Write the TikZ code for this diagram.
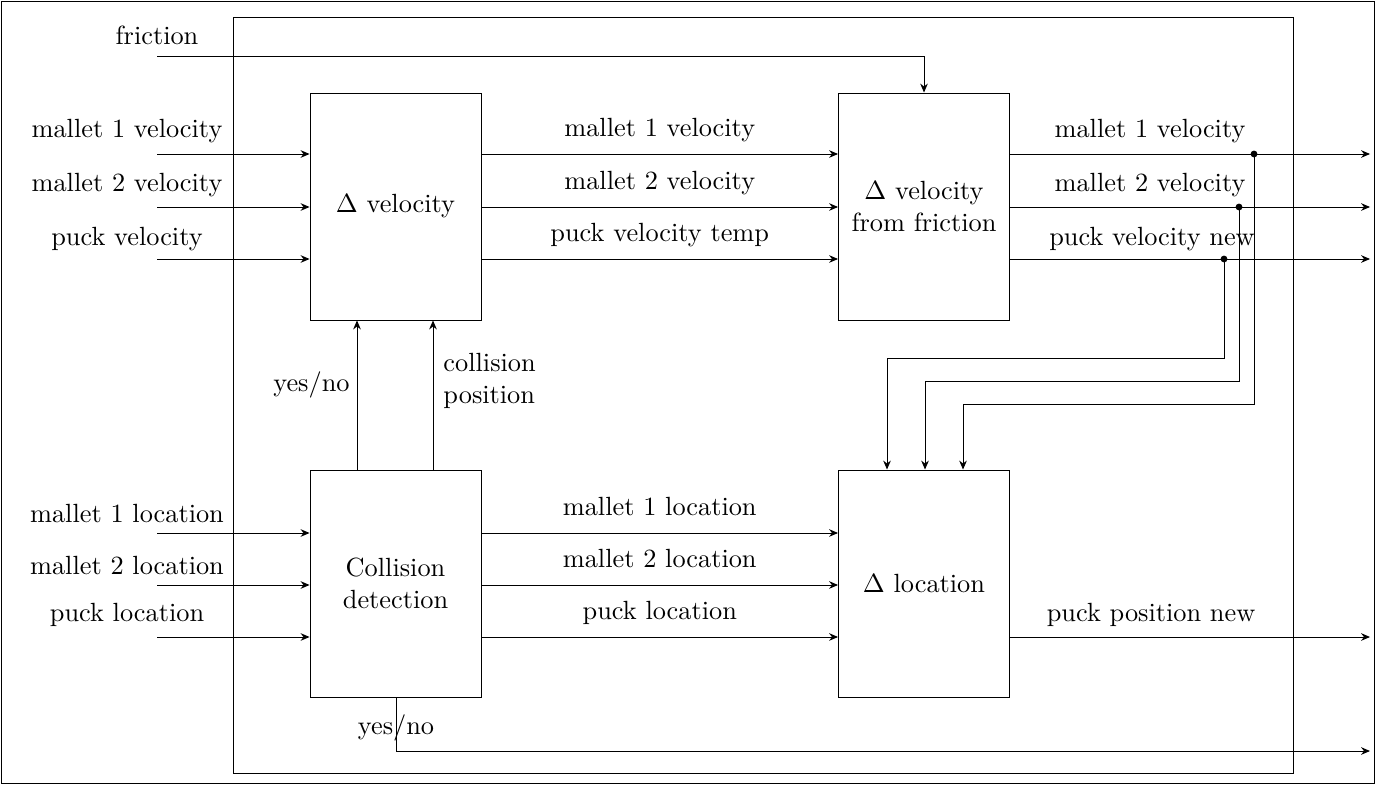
\documentclass[tikz,border=0pt]{standalone}
\usetikzlibrary{arrows.meta}
\begin{document}
\begin{tikzpicture}[x=0.38pt,y=-0.38pt,line width=0.36pt,
  blk/.style={draw,rectangle,inner sep=0pt,minimum width=64.98pt,minimum height=86.26pt,align=center},
  lbl/.style={inner sep=0pt,anchor=base},
  over/.style={midway,above=6.5pt,inner sep=0pt,anchor=base},
  flow/.style={-{Stealth[length=3.4pt,width=2.9pt]}},
  junc/.style={circle,fill,inner sep=0pt,minimum size=2.6pt}]
\useasboundingbox (0,0) rectangle (1375,784);
\draw (1,1) rectangle (1374,783);
% system boundary
\draw (233,17) rectangle (1293,773);

% blocks
\node[blk] (dv)  at (395.5,206.5) {$\Delta$ velocity};
\node[blk] (dvf) at (924,206.5) {$\Delta$ velocity\\from friction};
\node[blk] (cd)  at (395.5,583.5) {Collision\\detection};
\node[blk] (dl)  at (924,583.5) {$\Delta$ location};

% external inputs
\coordinate (fr) at (157,56);
\coordinate (vi1) at (157,154);
\coordinate (vi2) at (157,207);
\coordinate (vi3) at (157,259);
\coordinate (li1) at (157,533);
\coordinate (li2) at (157,585);
\coordinate (li3) at (157,637);
\node[lbl] at (157,45) {friction};
\node[lbl] at (127,137) {mallet 1 velocity};
\node[lbl] at (127,191) {mallet 2 velocity};
\node[lbl] at (127,245) {puck velocity};
\node[lbl] at (127,522) {mallet 1 location};
\node[lbl] at (127,574) {mallet 2 location};
\node[lbl] at (127,621) {puck location};

\draw[flow] (fr) -| (dvf.north);
\draw[flow] (vi1) -- (vi1 -| dv.west);
\draw[flow] (vi2) -- (vi2 -| dv.west);
\draw[flow] (vi3) -- (vi3 -| dv.west);
\draw[flow] (li1) -- (li1 -| cd.west);
\draw[flow] (li2) -- (li2 -| cd.west);
\draw[flow] (li3) -- (li3 -| cd.west);

% velocity block to friction block
\draw[flow] (dv.east |- vi1) -- node[over]{mallet 1 velocity} (dvf.west |- vi1);
\draw[flow] (dv.east |- vi2) -- node[over]{mallet 2 velocity} (dvf.west |- vi2);
\draw[flow] (dv.east |- vi3) -- node[over]{puck velocity temp} (dvf.west |- vi3);

% collision block to location block
\draw[flow] (cd.east |- li1) -- node[over]{mallet 1 location} (dl.west |- li1);
\draw[flow] (cd.east |- li2) -- node[over]{mallet 2 location} (dl.west |- li2);
\draw[flow] (cd.east |- li3) -- node[over]{puck location} (dl.west |- li3);

% collision results up to velocity block
\coordinate (c1) at (357,470);
\coordinate (c2) at (433,470);
\draw[flow] (c1) -- (c1 |- dv.south);
\draw[flow] (c2) -- (c2 |- dv.south);
\node[anchor=east,inner sep=0pt] at (350,385) {yes/no};
\node[anchor=west,inner sep=0pt,align=left] at (443,381) {collision\\position};

% outputs
\coordinate (o1) at (1370,154);
\coordinate (o2) at (1370,207);
\coordinate (o3) at (1370,259);
\coordinate (o4) at (1370,637);
\coordinate (o5) at (1370,751);
\draw[flow] (dvf.east |- o1) -- (o1);
\draw[flow] (dvf.east |- o2) -- (o2);
\draw[flow] (dvf.east |- o3) -- (o3);
\draw[flow] (dl.east |- o4) -- (o4);
\node[lbl] at (1150,137) {mallet 1 velocity};
\node[lbl] at (1150,191) {mallet 2 velocity};
\node[lbl] at (1152,245) {puck velocity new};
\node[lbl] at (1151,621) {puck position new};

% feedback of new velocities into location block
\node[junc] (j1) at (1254,154) {};
\node[junc] (j2) at (1239,207) {};
\node[junc] (j3) at (1224,259) {};
\coordinate (k3) at (887,358);
\coordinate (k2) at (925,381);
\coordinate (k1) at (963,404);
\draw[flow] (j3.center) |- (k3) -- (k3 |- dl.north);
\draw[flow] (j2.center) |- (k2) -- (k2 |- dl.north);
\draw[flow] (j1.center) |- (k1) -- (k1 |- dl.north);

% collision flag leaving the system
\coordinate (cy) at (396,751);
\draw[flow] (cd.south -| cy) -- (cy) -- (o5);
\node at (396,728) {yes/no};
\end{tikzpicture}
\end{document}
